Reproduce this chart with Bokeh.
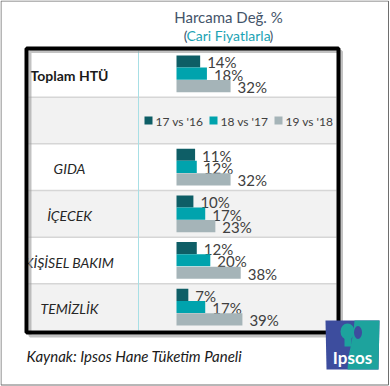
from bokeh.plotting import figure
from bokeh.models import Range1d, ColumnDataSource
from bokeh.transform import dodge
from bokeh.core.properties import value
from bokeh.embed import file_html
from bokeh.resources import INLINE

# ---------------- data ----------------
title_line1 = "Harcama Değ. %"
title_line2 = "Cari Fiyatlarla"
categories = ["Toplam HTÜ", "GIDA", "İÇECEK", "KİŞİSEL BAKIM", "TEMİZLİK"]
series_names = ["17 vs '16", "18 vs '17", "19 vs '18"]
v_17_16 = [14, 11, 10, 12, 7]
v_18_17 = [18, 12, 17, 20, 17]
v_19_18 = [32, 32, 23, 38, 39]
source_note = "Kaynak: Ipsos Hane Tüketim Paneli"
logo_text = "Ipsos"

# ---------------- layout / style ----------------
FONT = value("Lato")
colors = ["#0e5e66", "#00a3ad", "#a5b4b8"]
row_of_cat = [0, 2, 3, 4, 5]   # row 1 holds the legend
legend_row = 1
bar_offsets = [-0.265, -0.005, 0.262]
bar_h = 0.26

W, H = 390, 386
p = figure(width=W, height=H, x_range=Range1d(0, W), y_range=Range1d(H, 0),
           toolbar_location=None, output_backend="svg", min_border=0,
           x_axis_location=None, y_axis_location=None)
p.grid.visible = False
p.outline_line_color = None
p.background_fill_color = "white"
p.border_fill_color = "white"

px_per_pct = 1.69
bar_x0 = 176
p.extra_x_ranges = {"pct": Range1d(start=-bar_x0 / px_per_pct, end=(W - bar_x0) / px_per_pct)}
row_top, row_px = 50, 46.67
p.extra_y_ranges = {"row": Range1d(start=(H - row_top) / row_px - 0.5, end=-row_top / row_px - 0.5)}

# outer frame of the picture
p.quad(left=0.5, right=388, top=0.5, bottom=384.5, fill_color=None,
       line_color="#6e6e6e", line_width=1)

# row shading
p.hbar(y=[1, 3, 5], height=1, left=28, right=336, y_range_name="row",
       fill_color="#f2f2f2", line_color=None)
# row separators
seps = [0.5, 1.5, 2.5, 3.5, 4.5]
p.segment(x0=[28] * 5, x1=[336] * 5, y0=seps, y1=seps, y_range_name="row",
          line_color="#d6d6d6", line_width=1.5)
# vertical separator
p.segment(x0=[138], x1=[138], y0=[50], y1=[330], line_color="#a8dfe5", line_width=1)

# bars + labels
series_vals = [v_17_16, v_18_17, v_19_18]
for k, vals in enumerate(series_vals):
    src = ColumnDataSource(dict(row=row_of_cat, val=vals,
                                label=[f"{v}%" for v in vals]))
    p.hbar(y=dodge("row", bar_offsets[k]), left=0, right="val", height=bar_h,
           source=src, x_range_name="pct", y_range_name="row",
           fill_color=colors[k], line_color=None)
    p.text(x="val", y=dodge("row", bar_offsets[k] + 0.02), text="label", source=src,
           x_range_name="pct", y_range_name="row", x_offset=7,
           text_baseline="middle", text_align="left", text_font=FONT,
           text_font_size="15px", text_color="#404040")

# category labels
cat_src_bold = ColumnDataSource(dict(row=row_of_cat[:1], cat=categories[:1]))
cat_src_it = ColumnDataSource(dict(row=row_of_cat[1:], cat=categories[1:]))
p.text(x=69, y="row", text="cat", source=cat_src_bold, y_range_name="row",
       text_align="center", text_baseline="middle", y_offset=2, text_font=FONT,
       text_font_style="bold", text_font_size="14px", text_color="#1a1a1a")
p.text(x=69, y="row", text="cat", source=cat_src_it, y_range_name="row",
       text_align="center", text_baseline="middle", y_offset=1.5, text_font=FONT,
       text_font_style="italic", text_font_size="14px", text_color="#262626")

# legend (in the second row)
leg_x = [148, 213, 278]
p.scatter(x=leg_x, y=[legend_row] * 3, marker="square", size=8, y_range_name="row",
          fill_color=colors, line_color=None)
p.text(x=[x + 7 for x in leg_x], y=[legend_row] * 3, text=series_names,
       y_range_name="row", text_baseline="middle", text_align="left", y_offset=1,
       text_font=FONT, text_font_size="12px", text_color="#404040")

# table shadow + thick border
p.quad(left=29.5, right=341, top=51, bottom=335.5, fill_color=None,
       line_color="#9a9a9a", line_alpha=0.6, line_width=3)
p.quad(left=26, right=338, top=48, bottom=332, fill_color=None,
       line_color="#000000", line_width=4)

# title
p.text(x=[228], y=[16], text=[title_line1], text_align="center", text_baseline="middle",
       text_font=FONT, text_font_size="15px", text_color="#44546a")
p.text(x=[228], y=[35], text=[title_line2], text_align="center", text_baseline="middle",
       text_font=FONT, text_font_size="14px", text_color="#1ba3b4")
p.text(x=[187, 269], y=[35, 35], text=["(", ")"], text_align=["right", "left"],
       text_baseline="middle", text_font=FONT, text_font_size="14px",
       text_color="#44546a")

# source note
p.text(x=[26], y=[355], text=[source_note], text_align="left", text_baseline="middle",
       text_font=FONT, text_font_style="italic", text_font_size="15px",
       text_color="#1a1a1a")

# Ipsos logo
p.patch(x=[325, 379, 378, 326], y=[320, 320, 369, 369], fill_color="#3d4d9e", line_color=None)
p.patch(x=[354, 379, 378, 347, 348, 351, 353], y=[320, 320, 369, 369, 356, 342, 330],
        fill_color="#1da39d", line_color=None)
p.ellipse(x=[347], y=[331], width=14, height=16, fill_color="#1da39d", line_color=None)
p.quad(left=[344], right=[351], top=[336], bottom=[346], fill_color="#1da39d", line_color=None)
p.ellipse(x=[357.5], y=[332], width=8, height=13, fill_color="#3d4d9e", line_color=None)
p.text(x=[352], y=[357], text=[logo_text], text_align="center", text_baseline="middle",
       text_font=FONT, text_font_style="bold", text_font_size="17px", text_color="white")

open("out.html", "w").write(file_html(p, INLINE))
